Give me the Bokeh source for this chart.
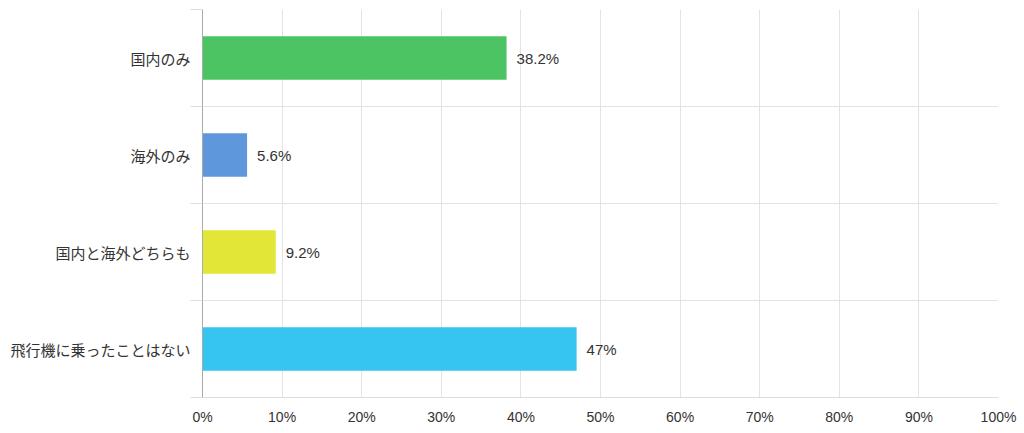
from bokeh.plotting import figure
from bokeh.models import ColumnDataSource, Range1d, FixedTicker, PrintfTickFormatter
from bokeh.core.properties import value
from bokeh.embed import file_html
from bokeh.resources import INLINE

categories = ["国内のみ", "海外のみ", "国内と海外どちらも", "飛行機に乗ったことはない"]
values = [38.2, 5.6, 9.2, 47]
value_labels = ["38.2%", "5.6%", "9.2%", "47%"]
colors = ["#4DC464", "#5E97DB", "#E1E637", "#36C5F0"]
x_ticks = [0, 10, 20, 30, 40, 50, 60, 70, 80, 90, 100]

n = len(categories)
ypos = [n - 1 - i for i in range(n)]
bounds = [i - 0.5 for i in range(n + 1)]

src = ColumnDataSource(dict(y=ypos, v=values, lab=value_labels, c=colors, cat=categories))

p = figure(width=1024, height=433, output_backend="svg", toolbar_location=None,
           x_range=Range1d(0, 100), y_range=Range1d(-0.5, n - 0.5),
           min_border_left=202, min_border_right=26, min_border_top=9, min_border_bottom=36)
p.outline_line_color = None
p.background_fill_color = "white"

p.hbar(y="y", left=0, right="v", height=0.45, fill_color="c", line_color=None, source=src)
p.text(x="v", y="y", text="lab", source=src, x_offset=10, text_baseline="middle",
       text_align="left", text_font=value("Liberation Sans"), text_font_size="15px",
       text_color="#333333")

# x axis
p.xaxis.ticker = FixedTicker(ticks=x_ticks, minor_ticks=[])
p.xaxis.formatter = PrintfTickFormatter(format="%d%%")
p.xaxis.major_tick_line_color = None
p.xaxis.minor_tick_line_color = None
p.xaxis.axis_line_color = "#dddddd"
p.xaxis.major_label_standoff = 5
p.xaxis.major_label_text_font = "Liberation Sans"
p.xaxis.major_label_text_font_size = "14px"
p.xaxis.major_label_text_color = "#333333"

# y axis
p.yaxis.ticker = FixedTicker(ticks=ypos, minor_ticks=bounds)
p.yaxis.major_label_overrides = {ypos[i]: categories[i] for i in range(n)}
p.yaxis.major_tick_line_color = None
p.yaxis.major_tick_out = 0
p.yaxis.major_tick_in = 0
p.yaxis.minor_tick_line_color = "#dddddd"
p.yaxis.minor_tick_out = 12
p.yaxis.minor_tick_in = 0
p.yaxis.axis_line_color = "#aaaaaa"
p.yaxis.major_label_standoff = 0
p.yaxis.major_label_text_font = "Noto Sans CJK JP"
p.yaxis.major_label_text_font_size = "15px"
p.yaxis.major_label_text_color = "#333333"

# grids
p.xgrid.ticker = FixedTicker(ticks=x_ticks)
p.xgrid.grid_line_color = "#e3e3e3"
p.ygrid.ticker = FixedTicker(ticks=bounds)
p.ygrid.grid_line_color = "#e3e3e3"

open("out.html", "w").write(file_html(p, INLINE))
